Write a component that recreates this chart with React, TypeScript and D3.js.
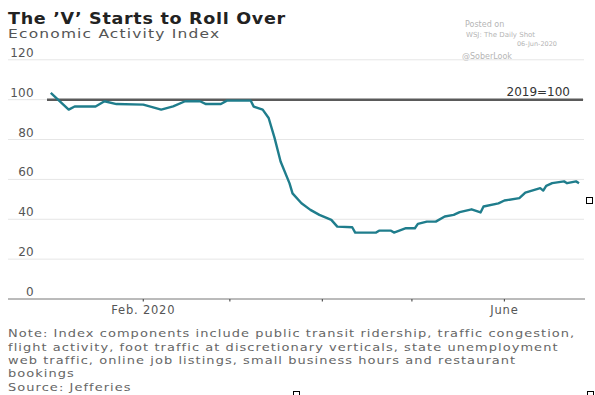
import React, { useEffect, useRef } from 'react';
import * as d3 from 'd3';

// economic activity index
const dates = [
  '2020-01-01', '2020-01-07', '2020-01-09', '2020-01-16', '2020-01-19', '2020-01-23',
  '2020-02-01', '2020-02-07', '2020-02-11', '2020-02-15', '2020-02-20', '2020-02-22',
  '2020-02-27', '2020-02-29', '2020-03-08', '2020-03-09', '2020-03-12', '2020-03-14',
  '2020-03-16', '2020-03-18', '2020-03-21', '2020-03-22', '2020-03-25', '2020-03-28',
  '2020-03-31', '2020-04-04', '2020-04-06', '2020-04-11', '2020-04-12', '2020-04-19',
  '2020-04-20', '2020-04-24', '2020-04-25', '2020-04-29', '2020-05-02', '2020-05-03',
  '2020-05-06', '2020-05-09', '2020-05-12', '2020-05-15', '2020-05-17', '2020-05-21',
  '2020-05-24', '2020-05-25', '2020-05-30', '2020-06-01', '2020-06-06', '2020-06-08',
  '2020-06-13', '2020-06-14', '2020-06-15', '2020-06-17', '2020-06-21', '2020-06-22',
  '2020-06-25', '2020-06-26',
];
const values = [
  103.4, 95, 96.6, 96.6, 99.2, 97.8,
  97.5, 95, 96.6, 99.2, 99.2, 97.8,
  97.8, 99.5, 99.5, 96.5, 95, 90.8,
  80.7, 69, 58, 53, 48, 44.7,
  42.2, 39.7, 36.3, 36, 33.3, 33.3,
  34.3, 34.3, 33.3, 35.5, 35.5, 37.7,
  38.8, 38.8, 41.4, 42.2, 43.6, 45,
  43.4, 46.4, 48, 49.4, 50.6, 53.4,
  55.6, 54.4, 56.8, 58.1, 59, 58.1,
  59, 58.1,
];

const yTicks = [0, 20, 40, 60, 80, 100, 120];
const monthTicks = ['2020-02-01', '2020-03-01', '2020-04-01', '2020-05-01', '2020-06-01'];
const monthLabels = ['Feb. 2020', '', '', '', 'June'];
const baseValue = 100;
const baseLabel = '2019=100';

const title = 'The \u2019V\u2019 Starts to Roll Over';
const subtitle = 'Economic Activity Index';
const noteLines = [
  'Note: Index components include public transit ridership, traffic congestion,',
  'flight activity, foot traffic at discretionary verticals, state unemployment',
  'web traffic, online job listings, small business hours and restaurant',
  'bookings',
  'Source: Jefferies',
];
const postedLines = ['Posted on', 'WSJ: The Daily Shot', '06-Jun-2020', '@SoberLook'];

const FONT = '"DejaVu Sans", sans-serif';

const App = () => {
  const ref = useRef<SVGSVGElement>(null);

  useEffect(() => {
    const svg = d3.select(ref.current);
    svg.selectAll('*').remove();

    const parse = d3.timeParse('%Y-%m-%d');
    const data = dates.map((d, i) => ({ date: parse(d) as Date, value: values[i] }));

    const left = 8;
    const right = 585;

    const x = d3.scaleTime()
      .domain([new Date(2019, 11, 18), new Date(2020, 5, 28)])
      .range([9, 585]);

    const y = d3.scaleLinear()
      .domain([0, 120])
      .range([299, 59.8]);

    svg.append('rect').attr('width', 595).attr('height', 395).attr('fill', '#fff');

    // the WSJ face is much wider than DejaVu, so stretch text blocks a little
    const stretched = (sx: number) => svg.append('g')
      .attr('transform', `translate(${left},0) scale(${sx},1)`);

    stretched(1.17).append('text')
      .attr('x', 0).attr('y', 24)
      .style('font-family', FONT).style('font-weight', 'bold').style('font-size', '15px')
      .style('letter-spacing', '0.6px')
      .attr('fill', '#222')
      .text(title);

    stretched(1.19).append('text')
      .attr('x', 0).attr('y', 38.5)
      .style('font-family', FONT).style('font-size', '13px')
      .style('letter-spacing', '1px')
      .attr('fill', '#555')
      .text(subtitle);

    // watermark
    const posted = [
      { x: 465, y: 26.5, size: 8, anchor: 'start' },
      { x: 466, y: 36.5, size: 7, anchor: 'start' },
      { x: 557, y: 45.5, size: 6.5, anchor: 'end' },
      { x: 462, y: 59, size: 8, anchor: 'start' },
    ];
    svg.selectAll('.posted')
      .data(postedLines)
      .enter().append('text')
      .attr('x', (_, i) => posted[i].x)
      .attr('y', (_, i) => posted[i].y)
      .attr('text-anchor', (_, i) => posted[i].anchor)
      .style('font-family', FONT)
      .style('font-size', (_, i) => `${posted[i].size}px`)
      .attr('fill', '#b5b5b5')
      .text(d => d);

    // grid
    svg.selectAll('.grid')
      .data(yTicks.filter(t => t !== 0))
      .enter().append('line')
      .attr('x1', left).attr('x2', right - 1)
      .attr('y1', d => y(d)).attr('y2', d => y(d))
      .attr('stroke', '#e6e6e6')
      .attr('stroke-width', 1);

    svg.selectAll('.ylab')
      .data(yTicks)
      .enter().append('text')
      .attr('x', 34)
      .attr('y', d => y(d) - 3)
      .attr('text-anchor', 'end')
      .style('font-family', FONT).style('font-size', '12px')
      .style('letter-spacing', '0.3px')
      .attr('fill', '#555')
      .text(d => d);

    // reference line at 100
    svg.append('line')
      .attr('x1', 47).attr('x2', 583)
      .attr('y1', y(baseValue)).attr('y2', y(baseValue))
      .attr('stroke', '#5a5a5a')
      .attr('stroke-width', 2.5);

    svg.append('text')
      .attr('x', 570).attr('y', y(baseValue) - 4)
      .attr('text-anchor', 'end')
      .style('font-family', FONT).style('font-size', '12px')
      .attr('fill', '#333')
      .text(baseLabel);

    // x axis
    svg.append('line')
      .attr('x1', left).attr('x2', right)
      .attr('y1', y(0)).attr('y2', y(0))
      .attr('stroke', '#777')
      .attr('stroke-width', 1);

    const months = monthTicks.map(d => parse(d) as Date);
    svg.selectAll('.tick')
      .data(months)
      .enter().append('line')
      .attr('x1', d => x(d)).attr('x2', d => x(d))
      .attr('y1', y(0)).attr('y2', y(0) + 2.5)
      .attr('stroke', '#555')
      .attr('stroke-width', 1.2);

    svg.selectAll('.xlab')
      .data(months)
      .enter().append('text')
      .attr('x', d => x(d))
      .attr('y', 313.5)
      .attr('text-anchor', 'middle')
      .style('font-family', FONT).style('font-size', '11.5px')
      .style('letter-spacing', '0.8px')
      .attr('fill', '#555')
      .text((_, i) => monthLabels[i]);

    // the index
    const line = d3.line<{ date: Date; value: number }>()
      .x(d => x(d.date))
      .y(d => y(d.value));

    svg.append('path')
      .datum(data)
      .attr('d', line)
      .attr('fill', 'none')
      .attr('stroke', '#1f7d8c')
      .attr('stroke-width', 2.4)
      .attr('stroke-linejoin', 'round');

    // footnote
    stretched(1.18).selectAll('.note')
      .data(noteLines)
      .enter().append('text')
      .attr('x', 0)
      .attr('y', (_, i) => 337.5 + i * 13.3)
      .style('font-family', FONT).style('font-size', '11px')
      .style('letter-spacing', '0.9px')
      .attr('fill', '#666')
      .text(d => d);

    // little frame handles left on the picture
    const handles = [[586, 197], [293, 391], [587, 391]];
    svg.selectAll('.handle')
      .data(handles)
      .enter().append('rect')
      .attr('x', d => d[0] + 0.5).attr('y', d => d[1] + 0.5)
      .attr('width', 6).attr('height', 6)
      .attr('fill', '#fff')
      .attr('stroke', '#000')
      .attr('stroke-width', 1);
  }, []);

  return (
    <svg ref={ref} width={595} height={395}
      style={{ position: 'absolute', left: 0, top: 0 }} />
  );
};

export default App;
